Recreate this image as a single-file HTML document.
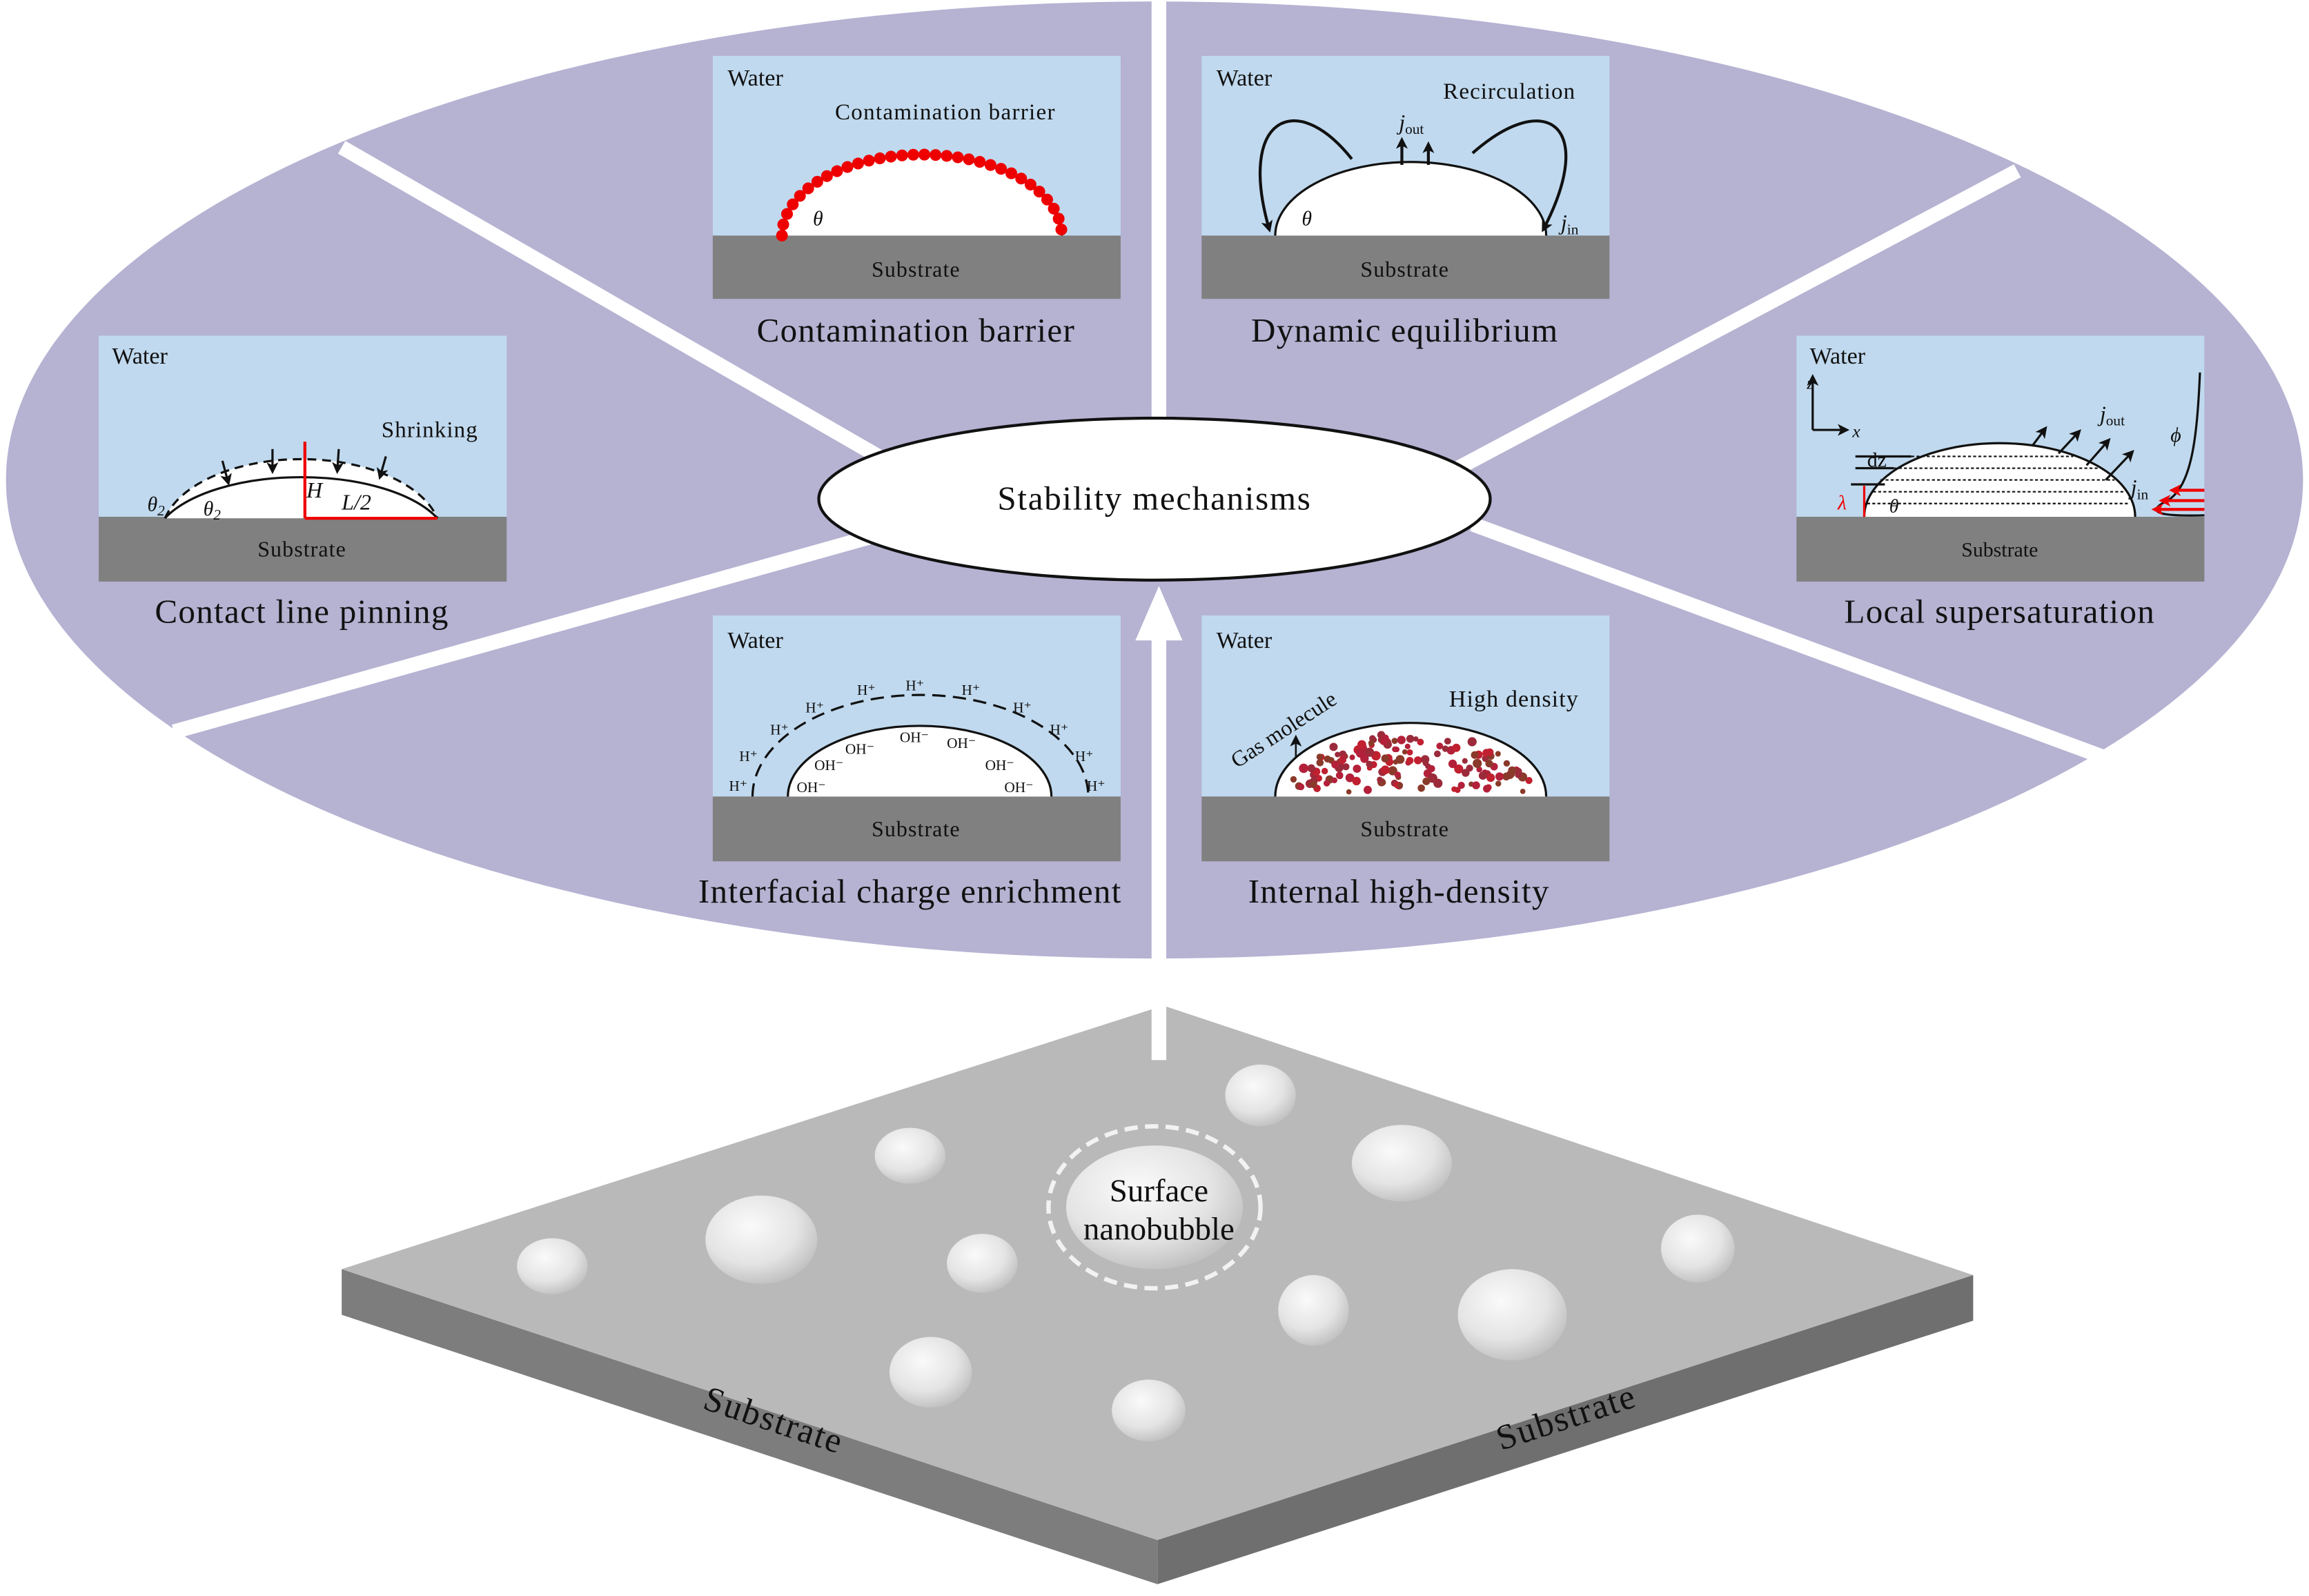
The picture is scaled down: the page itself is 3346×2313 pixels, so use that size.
<!DOCTYPE html>
<html><head><meta charset="utf-8">
<style>html,body{margin:0;padding:0;background:#fff}svg{display:block}text{font-family:"Liberation Serif",serif;fill:#111}</style>
</head><body>
<svg id="s" width="3346" height="2313" viewBox="0 0 1568 1084" xmlns="http://www.w3.org/2000/svg">
<defs>
<marker id="ah" markerWidth="8" markerHeight="8" refX="6" refY="4" orient="auto" markerUnits="userSpaceOnUse"><path d="M0,0 L8,4 L0,8 L2,4z" fill="#111"/></marker>
<marker id="rh" markerWidth="8" markerHeight="8" refX="6" refY="4" orient="auto" markerUnits="userSpaceOnUse"><path d="M0,0 L8,4 L0,8 L2,4z" fill="#e00"/></marker>
<radialGradient id="bg" cx="0.4" cy="0.35" r="0.7"><stop offset="0" stop-color="#fafafa"/><stop offset="0.6" stop-color="#e4e4e4"/><stop offset="1" stop-color="#bdbdbd"/></radialGradient>
</defs>
<rect width="1568" height="1084" fill="#fff"/>
<ellipse cx="784" cy="326" rx="780" ry="325" fill="#b5b2d2"/>
<g stroke="#fff" stroke-width="10">
<line x1="787" y1="0" x2="787" y2="290"/>
<line x1="232" y1="100" x2="600" y2="312"/>
<line x1="118" y1="497" x2="590" y2="365"/>
<line x1="1370" y1="116" x2="990" y2="318"/>
<line x1="1428" y1="514" x2="1000" y2="356"/>
</g>

<polygon points="232,862 786,1046 786,1076 232,893" fill="#7d7d7d"/>
<polygon points="786,1046 1340,866 1340,897 786,1076" fill="#6f6f6f"/>
<polygon points="790,683 1340,866 786,1046 232,862" fill="#b9b9b9"/>
<text x="523" y="972" font-size="24" text-anchor="middle" letter-spacing="1" transform="rotate(18.4 523 972)">Substrate</text>
<text x="1066" y="970" font-size="24" text-anchor="middle" letter-spacing="1" transform="rotate(-18 1066 970)">Substrate</text>
<g fill="url(#bg)">
<ellipse cx="856" cy="744" rx="24" ry="21"/><ellipse cx="618" cy="785" rx="24" ry="19"/>
<ellipse cx="952" cy="790" rx="34" ry="26"/><ellipse cx="517" cy="842" rx="38" ry="30"/>
<ellipse cx="784" cy="820" rx="60" ry="42"/><ellipse cx="375" cy="860" rx="24" ry="19"/>
<ellipse cx="667" cy="858" rx="24" ry="20"/><ellipse cx="1153" cy="848" rx="25" ry="23"/>
<ellipse cx="892" cy="890" rx="24" ry="24"/><ellipse cx="1027" cy="893" rx="37" ry="31"/>
<ellipse cx="632" cy="932" rx="28" ry="24"/><ellipse cx="780" cy="958" rx="25" ry="21"/>
</g>
<ellipse cx="784" cy="820" rx="72" ry="55" fill="none" stroke="#f2f2f2" stroke-width="3" stroke-dasharray="9 5"/>
<text x="787" y="816" font-size="22" text-anchor="middle">Surface</text>
<text x="787" y="842" font-size="22" text-anchor="middle">nanobubble</text>

<rect x="782" y="432" width="10" height="288" fill="#fff"/>
<polygon points="787,398 771,435 803,435" fill="#fff"/>

<ellipse cx="784" cy="339" rx="228" ry="55" fill="#fff" stroke="#111" stroke-width="2"/>
<text x="784" y="346" font-size="23" text-anchor="middle" letter-spacing="0.8">Stability mechanisms</text>

<g id="p1">
<rect x="484" y="38" width="277" height="122" fill="#c0d9ee"/><rect x="484" y="160" width="277" height="43" fill="#808080"/>
<text x="494" y="58" font-size="16">Water</text><text x="622" y="188" font-size="15" text-anchor="middle" letter-spacing="0.5">Substrate</text>
<text x="567" y="81" font-size="15.5" letter-spacing="0.6">Contamination barrier</text>
<path d="M531,160 A95,55 0 0 1 721,160" fill="#fff" stroke="#111" stroke-width="1.5"/>
<path d="M531,160 A95,55 0 0 1 721,160" fill="none" stroke="#e00" stroke-width="8" stroke-linecap="round" stroke-dasharray="0 7.6"/>
<text x="552" y="153" font-size="14" font-style="italic">θ</text>
</g>
<text x="622" y="232" font-size="23" text-anchor="middle" letter-spacing="0.6">Contamination barrier</text>

<g id="p2">
<rect x="816" y="38" width="277" height="122" fill="#c0d9ee"/><rect x="816" y="160" width="277" height="43" fill="#808080"/>
<text x="826" y="58" font-size="16">Water</text><text x="954" y="188" font-size="15" text-anchor="middle" letter-spacing="0.5">Substrate</text>
<text x="980" y="67" font-size="15.5" letter-spacing="0.5">Recirculation</text>
<path d="M866,160 A92,50 0 0 1 1050,160" fill="#fff" stroke="#111" stroke-width="1.5"/>
<g fill="none" stroke="#111" stroke-width="2" marker-end="url(#ah)">
<path d="M918,108 C880,60 840,80 862,156"/>
<path d="M1000,104 C1050,60 1085,85 1048,156"/>
<path d="M952,112 L952,95"/><path d="M970,112 L970,98"/>
</g>
<text x="950" y="88" font-size="15" font-style="italic">j<tspan font-size="10" font-style="normal" dy="3">out</tspan></text>
<text x="1060" y="156" font-size="15" font-style="italic">j<tspan font-size="10" font-style="normal" dy="3">in</tspan></text>
<text x="884" y="153" font-size="14" font-style="italic">θ</text>
</g>
<text x="954" y="232" font-size="23" text-anchor="middle" letter-spacing="0.6">Dynamic equilibrium</text>

<g id="p3">
<rect x="67" y="228" width="277" height="123" fill="#c0d9ee"/><rect x="67" y="351" width="277" height="44" fill="#808080"/>
<text x="76" y="247" font-size="16">Water</text><text x="205" y="378" font-size="15" text-anchor="middle" letter-spacing="0.5">Substrate</text>
<text x="259" y="297" font-size="15.5" letter-spacing="0.5">Shrinking</text>
<path d="M112,352 A95,52 0 0 1 297,352" fill="#fff" stroke="#111" stroke-width="1.5" stroke-dasharray="6 4"/>
<path d="M112,352 A100,45 0 0 1 297,352" fill="none" stroke="#111" stroke-width="1.5"/>
<line x1="207" y1="300" x2="207" y2="352" stroke="#e00" stroke-width="2"/>
<line x1="207" y1="352" x2="297" y2="352" stroke="#e00" stroke-width="2"/>
<g stroke="#111" stroke-width="1.5" marker-end="url(#ah)">
<line x1="151" y1="313" x2="155" y2="328"/><line x1="185" y1="305" x2="185" y2="320"/>
<line x1="230" y1="305" x2="229" y2="320"/><line x1="262" y1="310" x2="258" y2="324"/>
</g>
<text x="208" y="338" font-size="15" font-style="italic">H</text>
<text x="232" y="346" font-size="15" font-style="italic">L/2</text>
<text x="100" y="347" font-size="14" font-style="italic">θ<tspan font-size="10" dy="3">2</tspan></text>
<text x="138" y="350" font-size="14" font-style="italic">θ<tspan font-size="10" dy="3">2</tspan></text>
</g>
<text x="205" y="423" font-size="23" text-anchor="middle" letter-spacing="0.6">Contact line pinning</text>

<g id="p4">
<rect x="1220" y="228" width="277" height="123" fill="#c0d9ee"/><rect x="1220" y="351" width="277" height="44" fill="#808080"/>
<text x="1229" y="247" font-size="16">Water</text><text x="1358" y="378" font-size="14" text-anchor="middle">Substrate</text>
<path d="M1266,351 A92,50 0 0 1 1450,351" fill="#fff" stroke="#111" stroke-width="1.5"/>
<g stroke="#111" stroke-width="1" stroke-dasharray="2 1.5">
<line x1="1298" y1="310" x2="1408" y2="310"/><line x1="1286" y1="318" x2="1425" y2="318"/>
<line x1="1277" y1="326" x2="1436" y2="326"/><line x1="1272" y1="334" x2="1442" y2="334"/>
<line x1="1268" y1="342" x2="1446" y2="342"/>
</g>
<line x1="1260" y1="310" x2="1298" y2="310" stroke="#111" stroke-width="1.5"/>
<line x1="1260" y1="318" x2="1286" y2="318" stroke="#111" stroke-width="1.5"/>
<line x1="1257" y1="329" x2="1280" y2="329" stroke="#111" stroke-width="1.5"/>
<line x1="1266" y1="330" x2="1266" y2="351" stroke="#e00" stroke-width="1.5"/>
<text x="1248" y="346" font-size="14" font-style="italic" style="fill:#e00">λ</text>
<text x="1268" y="317" font-size="14">dz</text>
<text x="1283" y="348" font-size="13" font-style="italic">θ</text>
<g stroke="#111" stroke-width="1.5" marker-end="url(#ah)">
<line x1="1231" y1="292" x2="1231" y2="256"/><line x1="1231" y1="292" x2="1254" y2="292"/>
<line x1="1380" y1="303" x2="1389" y2="291"/><line x1="1398" y1="308" x2="1412" y2="293"/>
<line x1="1417" y1="316" x2="1432" y2="299"/><line x1="1430" y1="326" x2="1448" y2="307"/>
</g>
<text x="1227" y="264" font-size="12" font-style="italic">z</text><text x="1258" y="297" font-size="12" font-style="italic">x</text>
<text x="1426" y="286" font-size="15" font-style="italic">j<tspan font-size="10" font-style="normal" dy="3">out</tspan></text>
<text x="1447" y="336" font-size="15" font-style="italic">j<tspan font-size="10" font-style="normal" dy="3">in</tspan></text>
<text x="1474" y="300" font-size="14" font-style="italic">ϕ</text>
<path d="M1494,253 C1492,300 1488,330 1472,340 C1458,347 1462,351 1497,350" fill="none" stroke="#111" stroke-width="1.5"/>
<g stroke="#e00" stroke-width="2" marker-end="url(#rh)">
<line x1="1497" y1="333" x2="1475" y2="333"/><line x1="1497" y1="340" x2="1468" y2="340"/><line x1="1497" y1="346" x2="1463" y2="346"/>
</g>
</g>
<text x="1358" y="423" font-size="23" text-anchor="middle" letter-spacing="0.6">Local supersaturation</text>

<g id="p5">
<rect x="484" y="418" width="277" height="123" fill="#c0d9ee"/><rect x="484" y="541" width="277" height="44" fill="#808080"/>
<text x="494" y="440" font-size="16">Water</text><text x="622" y="568" font-size="15" text-anchor="middle" letter-spacing="0.5">Substrate</text>
<path d="M511,541 A114,69 0 0 1 739,541" fill="none" stroke="#111" stroke-width="1.5" stroke-dasharray="9 5"/>
<path d="M535,541 A89.5,48 0 0 1 714,541" fill="#fff" stroke="#111" stroke-width="1.5"/>
<g font-size="10">
<text x="495" y="537">H⁺</text><text x="502" y="517">H⁺</text><text x="523" y="499">H⁺</text><text x="547" y="484">H⁺</text>
<text x="582" y="472">H⁺</text><text x="615" y="469">H⁺</text><text x="653" y="472">H⁺</text><text x="688" y="484">H⁺</text>
<text x="713" y="499">H⁺</text><text x="730" y="517">H⁺</text><text x="738" y="537">H⁺</text>
<text x="541" y="538">OH⁻</text><text x="553" y="523">OH⁻</text><text x="574" y="512">OH⁻</text><text x="611" y="504">OH⁻</text>
<text x="643" y="508">OH⁻</text><text x="669" y="523">OH⁻</text><text x="682" y="538">OH⁻</text>
</g>
</g>
<text x="618" y="613" font-size="23" text-anchor="middle" letter-spacing="0.6">Interfacial charge enrichment</text>

<g id="p6">
<rect x="816" y="418" width="277" height="123" fill="#c0d9ee"/><rect x="816" y="541" width="277" height="44" fill="#808080"/>
<text x="826" y="440" font-size="16">Water</text><text x="954" y="568" font-size="15" text-anchor="middle" letter-spacing="0.5">Substrate</text>
<text x="984" y="480" font-size="16" letter-spacing="0.5">High density</text>
<path d="M866,541 A92,50 0 0 1 1050,541" fill="#fff" stroke="#111" stroke-width="1.5"/>
<g id="dots"></g>
<text x="840" y="522" font-size="15" transform="rotate(-33 840 522)">Gas molecule</text>
<line x1="880" y1="515" x2="880" y2="501" stroke="#111" stroke-width="1.2" marker-end="url(#ah)"/>
</g>
<text x="950" y="613" font-size="23" text-anchor="middle" letter-spacing="0.6">Internal high-density</text>
</svg>
<script>
(function(){var g=document.getElementById('dots');var s=7;function r(){s=(s*9301+49297)%233280;return s/233280;}
var cols=['#b3203a','#9b2a3a','#8a3a2a','#c02030'];
for(var i=0;i<500;i++){var x=868+r()*180,y=490+r()*50;var dx=(x-958)/90,dy=(541-y)/48;if(dx*dx+dy*dy>0.85||y>538)continue;
var c=document.createElementNS('http://www.w3.org/2000/svg','circle');c.setAttribute('cx',x.toFixed(1));c.setAttribute('cy',y.toFixed(1));c.setAttribute('r',(1.8+r()*1.4).toFixed(1));c.setAttribute('fill',cols[i%4]);g.appendChild(c);if(g.childNodes.length>150)break;}})();
</script>
</body></html>
